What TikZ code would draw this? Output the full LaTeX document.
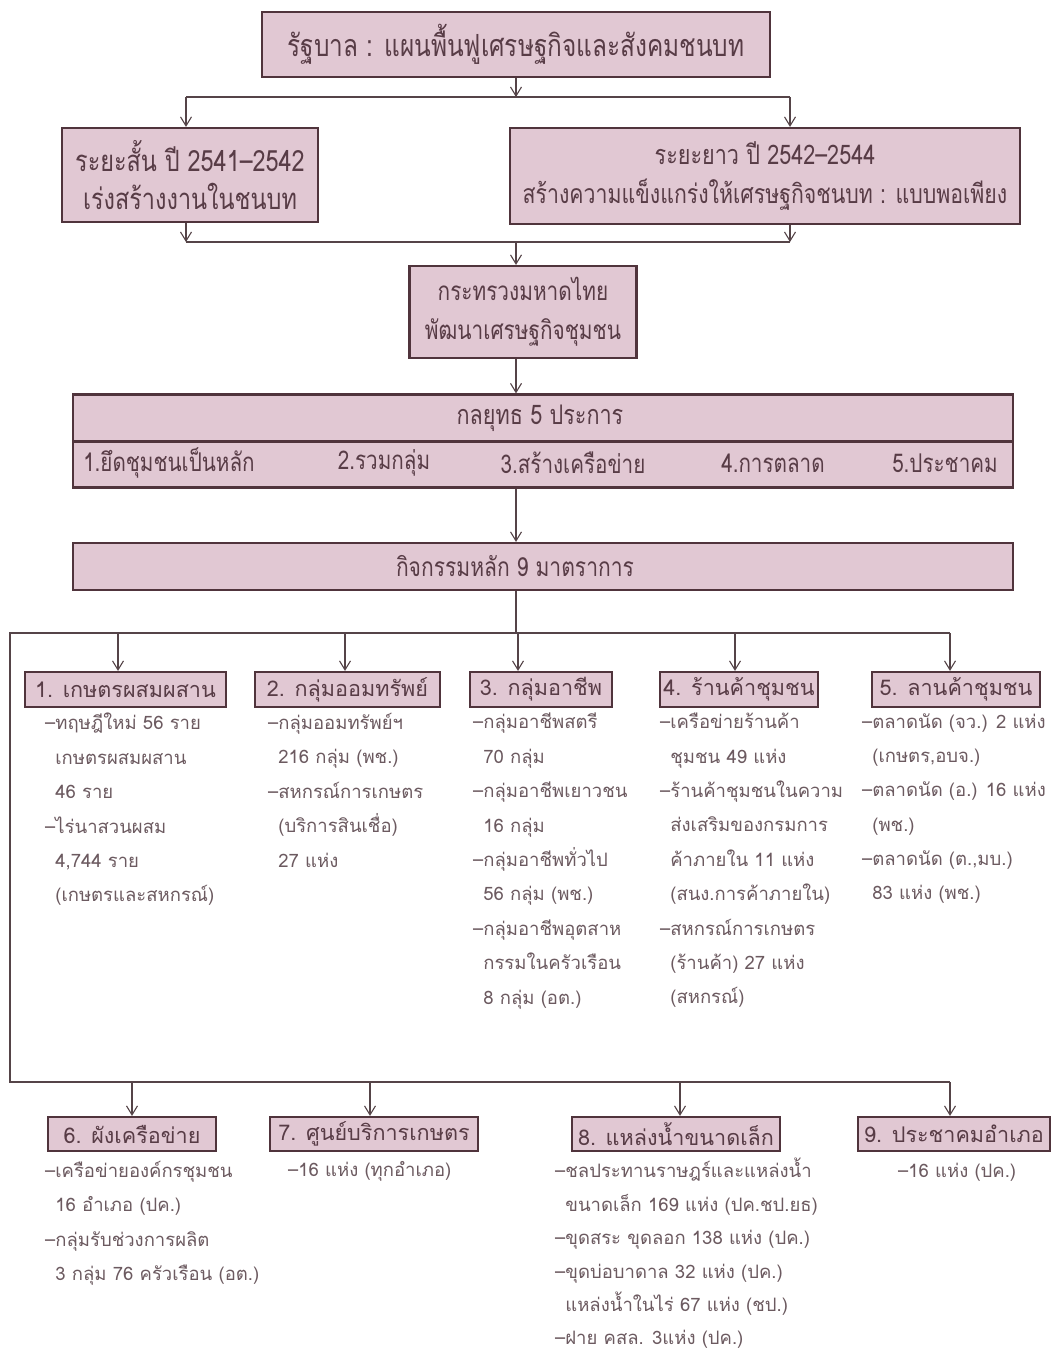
\documentclass[tikz,border=0pt]{standalone}
\usepackage{fontspec}
\newfontfamily\hfont[Script=Thai,FakeStretch=0.8]{Loma}
\newfontfamily\lfont[Script=Thai]{Loma}
\usetikzlibrary{arrows.meta}
\definecolor{boxfill}{RGB}{225,200,211}
\definecolor{boxline}{RGB}{80,52,60}
\definecolor{htext}{RGB}{88,60,70}
\definecolor{ltext}{RGB}{108,90,96}
\definecolor{wire}{RGB}{85,68,72}
\newcommand{\ind}{\phantom{–}}
\newcommand{\fs}[1]{\fontsize{#1}{1.45\dimexpr#1pt\relax}\selectfont}
\begin{document}
\begin{tikzpicture}[x=1pt,y=-1pt,
  hbox/.style={draw=boxline,line width=2.2pt,fill=boxfill,inner sep=0pt,text=htext,font=\hfont\fs{26},align=center},
  rbox/.style={draw=boxline,line width=2.2pt,fill=boxfill,inner sep=0pt,text=htext,font=\lfont\fs{21.6}},
  list/.style={anchor=north west,inner sep=0pt,text=ltext,align=left,font=\lfont\fontsize{18.5}{34.4}\selectfont},
  stitem/.style={inner sep=0pt,text=htext,font=\hfont\fs{25.8}},
  wires/.style={draw=wire,line width=1.3pt},
  arr/.style={wires,-{Straight Barb[length=9pt,width=11pt,line width=1.1pt]}}]
\useasboundingbox[fill=white] (0,0) rectangle (1055,1352);

% boxes
\node[hbox,minimum width=508,minimum height=65,font=\hfont\fs{30.5}] (top) at (516,44.5) {รัฐบาล : แผนพื้นฟูเศรษฐกิจและสังคมชนบท};
\node[hbox,minimum width=256,minimum height=94,font=\hfont\fontsize{29.3}{38.5}\selectfont] (short) at (190,175) {ระยะสั้น ปี 2541–2542\\เร่งสร้างงานในชนบท};
\node[hbox,minimum width=510,minimum height=96,font=\hfont\fontsize{27}{38.5}\selectfont] (long) at (765,176) {ระยะยาว ปี 2542–2544\\{\fontsize{26.6}{38.5}\selectfont สร้างความแข็งแกร่งให้เศรษฐกิจชนบท : แบบพอเพียง}};
\node[hbox,minimum width=227,minimum height=92,font=\hfont\fontsize{26}{39}\selectfont] (mini) at (523,312) {กระทรวงมหาดไทย\\พัฒนาเศรษฐกิจชุมชน};
\node[hbox,minimum width=940,minimum height=47] (strat) at (543,418) {};
\node[stitem,font=\hfont\fs{27}] (stitle) at (540,418) {กลยุทธ 5 ประการ};
\node[hbox,minimum width=940,minimum height=46] (stratb) at (543,464.5) {};
\node[stitem] (s1) at (169,463) {1.ยึดชุมชนเป็นหลัก};
\node[stitem] (s2) at (384,463) {2.รวมกลุ่ม};
\node[stitem] (s3) at (573,463) {3.สร้างเครือข่าย};
\node[stitem] (s4) at (773,463) {4.การตลาด};
\node[stitem] (s5) at (945,463) {5.ประชาคม};
\node[hbox,minimum width=940,minimum height=47] (act) at (543,566.5) {};
\node[stitem,font=\hfont\fs{26.3}] (acttitle) at (515,566.5) {กิจกรรมหลัก 9 มาตราการ};

% row 1
\node[rbox,minimum width=201,minimum height=35] (b1) at (125.5,689.5) {1. เกษตรผสมผสาน};
\node[rbox,minimum width=185,minimum height=35] (b2) at (347.5,689.5) {2. กลุ่มออมทรัพย์};
\node[rbox,minimum width=142,minimum height=35] (b3) at (541,689.5) {3. กลุ่มอาชีพ};
\node[rbox,minimum width=158,minimum height=35] (b4) at (739,689.5) {4. ร้านค้าชุมชน};
\node[rbox,minimum width=168,minimum height=35] (b5) at (956,689.5) {5. ลานค้าชุมชน};
% row 2
\node[rbox,minimum width=168,minimum height=34] (b6) at (132,1134) {6. ผังเครือข่าย};
\node[rbox,minimum width=208,minimum height=34] (b7) at (374,1134) {7. ศูนย์บริการเกษตร};
\node[rbox,minimum width=208,minimum height=34] (b8) at (676,1134) {8. แหล่งน้ำขนาดเล็ก};
\node[rbox,minimum width=192,minimum height=34] (b9) at (954,1134) {9. ประชาคมอำเภอ};

% lists
\node[list] (l1) at (45,713) {–ทฤษฎีใหม่ 56 ราย\\\ind เกษตรผสมผสาน\\\ind 46 ราย\\–ไร่นาสวนผสม\\\ind 4,744 ราย\\\ind (เกษตรและสหกรณ์)};
\node[list] (l2) at (268,713) {–กลุ่มออมทรัพย์ฯ\\\ind 216 กลุ่ม (พช.)\\–สหกรณ์การเกษตร\\\ind (บริการสินเชื่อ)\\\ind 27 แห่ง};
\node[list] (l3) at (473,713) {–กลุ่มอาชีพสตรี\\\ind 70 กลุ่ม\\–กลุ่มอาชีพเยาวชน\\\ind 16 กลุ่ม\\–กลุ่มอาชีพทั่วไป\\\ind 56 กลุ่ม (พช.)\\–กลุ่มอาชีพอุตสาห\\\ind กรรมในครัวเรือน\\\ind 8 กลุ่ม (อต.)};
\node[list] (l4) at (660,713) {–เครือข่ายร้านค้า\\\ind ชุมชน 49 แห่ง\\–ร้านค้าชุมชนในความ\\\ind ส่งเสริมของกรมการ\\\ind ค้าภายใน 11 แห่ง\\\ind (สนง.การค้าภายใน)\\–สหกรณ์การเกษตร\\\ind (ร้านค้า) 27 แห่ง\\\ind (สหกรณ์)};
\node[list] (l5) at (862,713) {–ตลาดนัด (จว.) 2 แห่ง\\\ind (เกษตร,อบจ.)\\–ตลาดนัด (อ.) 16 แห่ง\\\ind (พช.)\\–ตลาดนัด (ต.,มบ.)\\\ind 83 แห่ง (พช.)};
\node[list] (l6) at (45,1161) {–เครือข่ายองค์กรชุมชน\\\ind 16 อำเภอ (ปค.)\\–กลุ่มรับช่วงการผลิต\\\ind 3 กลุ่ม 76 ครัวเรือน (อต.)};
\node[list] (l7) at (288,1161) {–16 แห่ง (ทุกอำเภอ)};
\node[list,font=\lfont\fontsize{18.5}{33.4}\selectfont] (l8) at (555,1158) {–ชลประทานราษฎร์และแหล่งน้ำ\\\ind ขนาดเล็ก 169 แห่ง (ปค.ชป.ยธ)\\–ขุดสระ ขุดลอก 138 แห่ง (ปค.)\\–ขุดบ่อบาดาล 32 แห่ง (ปค.)\\\ind แหล่งน้ำในไร่ 67 แห่ง (ชป.)\\–ฝาย คสล. 3แห่ง (ปค.)};
\node[list] (l9) at (898,1163) {–16 แห่ง (ปค.)};

% connectors top
\coordinate (busA) at (516,97);
\coordinate (busAL) at (186,97);
\coordinate (busAR) at (790,97);
\coordinate (busB) at (516,242);
\coordinate (busBL) at (186,242);
\coordinate (busBR) at (790,242);
\draw[arr] (top.south) -- (busA);
\draw[wires] (busAL) -- (busAR);
\draw[arr] (busAL) -- (busAL |- short.north);
\draw[arr] (busAR) -- (busAR |- long.north);
\draw[arr] (busAL |- short.south) -- (busBL);
\draw[arr] (busAR |- long.south) -- (busBR);
\draw[wires] (busBL) -- (busBR);
\draw[arr] (busB) -- (busB |- mini.north);
\draw[arr] (busB |- mini.south) -- (busB |- strat.north);
\draw[arr] (busB |- stratb.south) -- (busB |- act.north);

% row buses
\coordinate (r1) at (516,633);
\coordinate (r1L) at (10,633);
\coordinate (r1R) at (950,633);
\coordinate (r2L) at (10,1082);
\coordinate (r2R) at (950,1082);
\draw[wires] (busB |- act.south) -- (r1);
\draw[wires] (r2R) -- (r2L) -- (r1L) -- (r1R);
\draw[arr] (r1 -| 118,0) -- (118,0 |- b1.north);
\draw[arr] (r1 -| 345,0) -- (345,0 |- b2.north);
\draw[arr] (r1 -| 518,0) -- (518,0 |- b3.north);
\draw[arr] (r1 -| 735,0) -- (735,0 |- b4.north);
\draw[arr] (r1 -| 950,0) -- (950,0 |- b5.north);
\draw[arr] (r2L -| 132,0) -- (132,0 |- b6.north);
\draw[arr] (r2L -| 370,0) -- (370,0 |- b7.north);
\draw[arr] (r2L -| 680,0) -- (680,0 |- b8.north);
\draw[arr] (r2L -| 950,0) -- (950,0 |- b9.north);
\end{tikzpicture}
\end{document}
